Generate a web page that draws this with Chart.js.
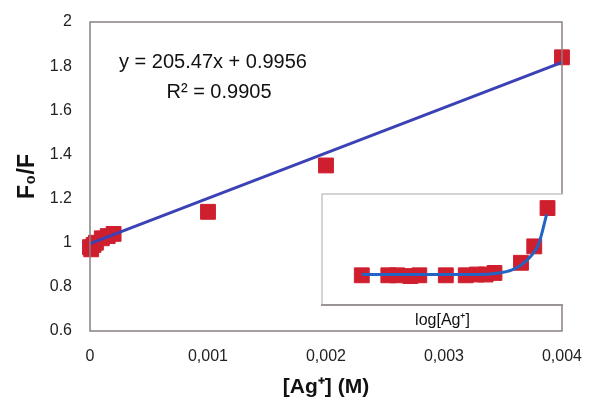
<!DOCTYPE html>
<html>
<head>
<meta charset="utf-8">
<script src="https://cdn.jsdelivr.net/npm/chart.js@4"></script>
<style>
  body { margin: 0; background: #fff; }
  #wrap { position: relative; width: 590px; height: 404px; }
  #mainChart { position: absolute; left: 0; top: 0; }
  #insetChart { position: absolute; left: 316px; top: 188px; }
</style>
</head>
<body>
<div id="wrap">
  <canvas id="mainChart" width="590" height="404"></canvas>
  <canvas id="insetChart" width="247" height="142"></canvas>
</div>
<script>
// main plot: F0/F against [Ag+]
const agConc = [0, 0.00001, 0.00003, 0.00005, 0.0001, 0.00015, 0.0002, 0.001, 0.002, 0.004]
const ratio = [0.98, 0.97, 0.99, 1.0, 1.02, 1.03, 1.04, 1.14, 1.35, 1.84]
// linear fit, y = 205.47x + 0.9956
const trendX = [0, 0.004]
const trendY = [0.9956, 1.8175]
const yTicks = ['0.6', '0.8', '1', '1.2', '1.4', '1.6', '1.8', '2']
const xTicks = ['0', '0,001', '0,002', '0,003', '0,004']

// inset: F0/F against log[Ag+]
const insetLog = [-6.6, -6.0, -5.8, -5.5, -5.3, -4.7, -4.25, -4.0, -3.8, -3.6, -3.0, -2.7, -2.4]
const insetRatio = [0.98, 0.98, 0.98, 0.97, 0.98, 0.98, 0.98, 0.99, 0.99, 1.01, 1.14, 1.35, 1.84]
const insetFitX = [-6.6, -5.0, -4.0, -3.5, -3.2, -3.0, -2.8, -2.6, -2.42]
const insetFitY = [0.99, 0.99, 0.99, 1.01, 1.05, 1.11, 1.21, 1.38, 1.76]

const red = '#cf1f2e'
const font = 'Liberation Sans, Arial, sans-serif'

function toPoints (xs, ys) {
  return xs.map((x, i) => ({ x: x, y: ys[i] }))
}

const boxPlugin = {
  id: 'box',
  afterDraw (chart) {
    const { ctx, chartArea } = chart
    ctx.save()
    ctx.strokeStyle = '#8a8080'
    ctx.lineWidth = 1.5
    ctx.strokeRect(chartArea.left, chartArea.top, chartArea.right - chartArea.left, chartArea.bottom - chartArea.top)
    ctx.fillStyle = '#111'
    ctx.font = '20px ' + font
    ctx.textAlign = 'center'
    ctx.textBaseline = 'middle'
    ctx.fillText('y = 205.47x + 0.9956', 213, 62)
    ctx.fillText('R² = 0.9905', 219, 92)
    ctx.restore()
  }
}

new Chart(document.getElementById('mainChart'), {
  type: 'scatter',
  data: {
    datasets: [
      {
        type: 'line',
        data: toPoints(trendX, trendY),
        borderColor: '#3b42b6',
        borderWidth: 3,
        pointRadius: 0,
        clip: false,
        order: 1
      },
      {
        data: toPoints(agConc, ratio),
        pointStyle: 'rect',
        pointRadius: 10.5,
        backgroundColor: red,
        borderColor: red,
        clip: false,
        order: 2
      }
    ]
  },
  options: {
    responsive: false,
    animation: false,
    layout: { autoPadding: false, padding: { top: 22, right: 26, left: 0, bottom: 0 } },
    plugins: { legend: { display: false }, tooltip: { enabled: false } },
    scales: {
      x: {
        type: 'linear',
        min: 0,
        max: 0.004,
        grid: { display: false },
        border: { display: false },
        afterFit (scale) { scale.height = 73 },
        afterBuildTicks (scale) {
          scale.ticks = xTicks.map((t, i) => ({ value: i * 0.001 }))
        },
        ticks: {
          color: '#222',
          font: { family: font, size: 16 },
          padding: 8,
          maxRotation: 0,
          callback: (v, i) => xTicks[i]
        },
        title: {
          display: true,
          text: '[Ag⁺] (M)',
          color: '#111',
          font: { family: font, size: 21, weight: 'bold' },
          padding: { top: 0 }
        }
      },
      y: {
        min: 0.6,
        max: 2,
        grid: { display: false },
        border: { display: false },
        afterFit (scale) { scale.width = 90 },
        afterBuildTicks (scale) {
          scale.ticks = yTicks.map(t => ({ value: parseFloat(t) }))
        },
        ticks: {
          color: '#222',
          font: { family: font, size: 16 },
          padding: 10,
          callback: (v, i) => yTicks[i]
        },
        title: {
          display: true,
          text: 'F₀/F',
          color: '#111',
          font: { family: font, size: 23, weight: 'bold' },
          padding: { bottom: 0, top: 14 }
        }
      }
    }
  },
  plugins: [boxPlugin]
})

const insetBoxPlugin = {
  id: 'insetBox',
  beforeDraw (chart) {
    const { ctx, chartArea } = chart
    ctx.save()
    ctx.fillStyle = '#fff'
    ctx.fillRect(chartArea.left, chartArea.top, chartArea.right - chartArea.left, chartArea.bottom - chartArea.top)
    ctx.strokeStyle = '#c8c4c4'
    ctx.lineWidth = 1.5
    ctx.beginPath()
    ctx.moveTo(chartArea.left, chartArea.bottom)
    ctx.lineTo(chartArea.left, chartArea.top)
    ctx.lineTo(chartArea.right, chartArea.top)
    ctx.stroke()
    ctx.restore()
  }
}

new Chart(document.getElementById('insetChart'), {
  type: 'scatter',
  data: {
    datasets: [
      {
        type: 'line',
        data: toPoints(insetFitX, insetFitY),
        borderColor: '#2263c4',
        borderWidth: 3,
        pointRadius: 0,
        cubicInterpolationMode: 'monotone',
        clip: false,
        order: 1
      },
      {
        data: toPoints(insetLog, insetRatio),
        pointStyle: 'rect',
        pointRadius: 10.5,
        backgroundColor: red,
        borderColor: red,
        clip: false,
        order: 2
      }
    ]
  },
  options: {
    responsive: false,
    animation: false,
    layout: { autoPadding: false, padding: { top: 6, left: 6, right: 0, bottom: 0 } },
    plugins: { legend: { display: false }, tooltip: { enabled: false } },
    scales: {
      x: {
        type: 'linear',
        min: -7.5,
        max: -2.05,
        grid: { display: false },
        border: { display: true, color: '#9a9494', width: 2 },
        ticks: { display: false },
        afterFit (scale) { scale.height = 25 },
        title: {
          display: true,
          text: 'log[Ag⁺]',
          color: '#111',
          font: { family: font, size: 16 },
          padding: { top: 2, bottom: 0 }
        }
      },
      y: {
        display: false,
        min: 0.6,
        max: 2.02
      }
    }
  },
  plugins: [insetBoxPlugin]
})
</script>
</body>
</html>
